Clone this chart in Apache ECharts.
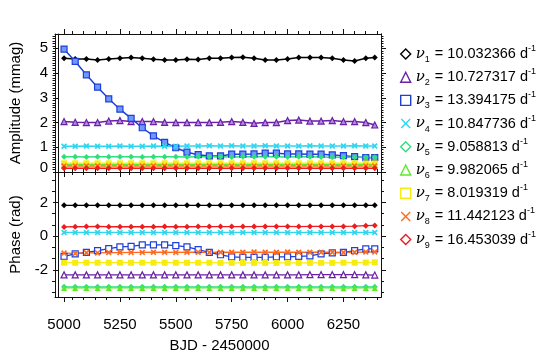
<!DOCTYPE html>
<html>
<head>
<meta charset="utf-8">
<script src="https://cdn.jsdelivr.net/npm/echarts@6/dist/echarts.min.js"></script>
<style>
  html, body { margin: 0; padding: 0; background: #fff; }
  #chart { width: 545px; height: 355px; }
</style>
</head>
<body>
<div id="chart"></div>
<script>
// observation epochs, BJD - 2450000
const bjd = [5000, 5050, 5100, 5150, 5200, 5250, 5300, 5350, 5400, 5450, 5500, 5550, 5600, 5650,
  5700, 5750, 5800, 5850, 5900, 5950, 6000, 6050, 6100, 6150, 6200, 6250, 6300, 6350, 6390];

const names = ['v1', 'v2', 'v3', 'v4', 'v5', 'v6', 'v7', 'v8', 'v9'];
const freqs = ['10.032366', '10.727317', '13.394175', '10.847736', '9.058813', '9.982065',
  '8.019319', '11.442123', '16.453039'];

// amplitudes (mmag)
const amp1 = [4.60, 4.57, 4.57, 4.53, 4.57, 4.60, 4.63, 4.60, 4.56, 4.53, 4.53, 4.56, 4.55, 4.60,
  4.60, 4.63, 4.64, 4.60, 4.53, 4.53, 4.57, 4.63, 4.63, 4.63, 4.60, 4.53, 4.49, 4.60, 4.63];
const amp2 = [2.04, 2.01, 2.00, 2.00, 2.06, 2.08, 2.04, 2.04, 2.04, 2.01, 2.00, 2.00, 2.00, 2.00,
  2.01, 2.04, 2.01, 1.97, 2.00, 2.00, 2.08, 2.10, 2.06, 2.06, 2.08, 2.04, 2.04, 2.00, 1.90];
const amp3 = [4.97, 4.47, 3.93, 3.43, 2.96, 2.54, 2.17, 1.79, 1.46, 1.20, 0.98, 0.80, 0.70, 0.65,
  0.65, 0.72, 0.72, 0.73, 0.76, 0.76, 0.73, 0.73, 0.72, 0.72, 0.69, 0.66, 0.62, 0.58, 0.58];
const amp4 = [1.04, 1.04, 1.05, 1.04, 1.04, 1.05, 1.04, 1.04, 1.05, 1.04, 1.04, 1.05, 1.05, 1.06,
  1.05, 1.06, 1.05, 1.05, 1.06, 1.05, 1.05, 1.05, 1.06, 1.05, 1.05, 1.05, 1.06, 1.05, 1.05];
const amp5 = [0.62, 0.62, 0.61, 0.62, 0.62, 0.62, 0.62, 0.61, 0.62, 0.62, 0.62, 0.61, 0.62, 0.62,
  0.62, 0.61, 0.62, 0.62, 0.62, 0.62, 0.61, 0.62, 0.62, 0.61, 0.60, 0.60, 0.60, 0.60, 0.60];
const amp6 = [0.30, 0.30, 0.30, 0.30, 0.30, 0.30, 0.30, 0.30, 0.30, 0.30, 0.30, 0.30, 0.30, 0.30,
  0.30, 0.30, 0.30, 0.30, 0.30, 0.30, 0.30, 0.30, 0.30, 0.30, 0.30, 0.30, 0.30, 0.30, 0.30];
const amp7 = [0.35, 0.35, 0.35, 0.35, 0.35, 0.35, 0.35, 0.35, 0.35, 0.35, 0.35, 0.35, 0.35, 0.35,
  0.35, 0.35, 0.35, 0.35, 0.35, 0.35, 0.35, 0.35, 0.35, 0.35, 0.35, 0.35, 0.35, 0.35, 0.35];
const amp8 = [0.24, 0.24, 0.24, 0.24, 0.24, 0.24, 0.24, 0.24, 0.24, 0.24, 0.24, 0.24, 0.24, 0.24,
  0.24, 0.24, 0.24, 0.24, 0.24, 0.24, 0.24, 0.24, 0.24, 0.24, 0.24, 0.24, 0.24, 0.24, 0.24];
const amp9 = [0.15, 0.15, 0.15, 0.15, 0.15, 0.15, 0.15, 0.15, 0.15, 0.15, 0.15, 0.15, 0.15, 0.15,
  0.15, 0.15, 0.15, 0.15, 0.15, 0.15, 0.15, 0.15, 0.15, 0.15, 0.15, 0.15, 0.15, 0.15, 0.15];

// phases (rad)
const ph1 = [1.83, 1.83, 1.83, 1.83, 1.83, 1.83, 1.83, 1.83, 1.83, 1.83, 1.83, 1.83, 1.83, 1.83,
  1.83, 1.83, 1.83, 1.83, 1.83, 1.83, 1.83, 1.83, 1.83, 1.83, 1.83, 1.83, 1.83, 1.83, 1.83];
const ph2 = [-2.29, -2.29, -2.29, -2.29, -2.29, -2.29, -2.29, -2.29, -2.29, -2.29, -2.29, -2.29, -2.29, -2.29,
  -2.29, -2.29, -2.29, -2.29, -2.29, -2.29, -2.29, -2.29, -2.28, -2.28, -2.28, -2.28, -2.28, -2.29, -2.30];
const ph3 = [-1.20, -1.05, -0.96, -0.86, -0.74, -0.63, -0.60, -0.51, -0.51, -0.51, -0.56, -0.63, -0.80, -0.96,
  -1.10, -1.23, -1.26, -1.26, -1.26, -1.23, -1.23, -1.20, -1.16, -1.05, -0.99, -0.96, -0.86, -0.75, -0.75];
const ph4 = [0.22, 0.22, 0.22, 0.22, 0.22, 0.22, 0.22, 0.22, 0.22, 0.22, 0.22, 0.22, 0.22, 0.22,
  0.22, 0.22, 0.22, 0.22, 0.22, 0.22, 0.22, 0.22, 0.22, 0.22, 0.22, 0.22, 0.22, 0.22, 0.22];
const ph5 = [-3.00, -3.00, -3.00, -3.00, -3.00, -3.00, -3.00, -3.00, -3.00, -3.00, -3.00, -3.00, -3.00, -3.00,
  -3.00, -3.00, -3.00, -3.00, -3.00, -3.00, -3.00, -3.00, -3.00, -3.00, -3.00, -3.00, -3.00, -3.00, -3.00];
const ph6 = [-3.06, -3.06, -3.06, -3.06, -3.06, -3.06, -3.06, -3.06, -3.06, -3.06, -3.06, -3.06, -3.06, -3.06,
  -3.06, -3.06, -3.06, -3.06, -3.06, -3.06, -3.06, -3.06, -3.06, -3.06, -3.06, -3.08, -3.06, -3.06, -3.06];
const ph7 = [-1.57, -1.57, -1.57, -1.57, -1.57, -1.57, -1.57, -1.57, -1.57, -1.57, -1.57, -1.57, -1.57, -1.57,
  -1.58, -1.58, -1.58, -1.58, -1.58, -1.58, -1.58, -1.58, -1.58, -1.58, -1.58, -1.57, -1.57, -1.56, -1.55];
const ph8 = [-1.00, -1.02, -0.98, -0.99, -0.97, -0.97, -0.96, -0.96, -0.95, -0.95, -0.96, -0.95, -0.95, -0.96,
  -0.95, -0.95, -0.95, -0.94, -0.95, -0.95, -0.94, -0.95, -0.95, -0.95, -0.95, -0.96, -0.95, -0.94, -0.93];
const ph9 = [0.55, 0.56, 0.57, 0.58, 0.56, 0.56, 0.56, 0.56, 0.56, 0.57, 0.56, 0.56, 0.57, 0.57,
  0.57, 0.57, 0.57, 0.57, 0.58, 0.58, 0.58, 0.57, 0.58, 0.58, 0.58, 0.58, 0.59, 0.62, 0.64];

const amps = [amp1, amp2, amp3, amp4, amp5, amp6, amp7, amp8, amp9];
const phases = [ph1, ph2, ph3, ph4, ph5, ph6, ph7, ph8, ph9];

// tick labels
const xTicks = [5000, 5250, 5500, 5750, 6000, 6250];
const ampTicks = [0, 1, 2, 3, 4, 5];
const phaseTicks = [-2, 0, 2];

const colors = ['#000000', '#6a1fa6', '#1e3fd8', '#2fd6f0', '#2ee07c', '#5ee82c', '#f7ec10', '#ff6a1e', '#ee1c1c'];
const fills = ['#000000', '#b48ae0', '#6f98ff', '#2fd6f0', '#2ee07c', '#5ee82c', '#f7ec10', '#ff6a1e', '#ee1c1c'];
const cross = 'path://M2,0L5,3L8,0L10,2L7,5L10,8L8,10L5,7L2,10L0,8L3,5L0,2Z';
const thinCross = 'path://M1,0L5,4L9,0L10,1L6,5L10,9L9,10L5,6L1,10L0,9L4,5L0,1Z';
const shapes = ['diamond', 'triangle', 'rect', cross, 'diamond', 'triangle', 'rect', cross, 'diamond'];
const legendShapes = ['diamond', 'triangle', 'rect', thinCross, 'diamond', 'triangle', 'rect', thinCross, 'diamond'];

const FONT = '"Liberation Sans", Arial, Helvetica, sans-serif';
const X_MIN = 4973, X_MAX = 6418;
const A_MIN = 0, A_MAX = 5.58;
const P_MIN = -3.6, P_MAX = 3.8;

// minor ticks between the labelled ones
function minorTicks(majors, n, min, max) {
  const step = (majors[1] - majors[0]) / n;
  const out = [];
  const start = majors[0] - step * n * 2;
  const end = majors[majors.length - 1] + step * n * 2;
  for (let v = start; v <= end + 1e-9; v += step) {
    const r = Math.round(v * 1000) / 1000;
    const isMajor = majors.some(m => Math.abs(m - r) < 1e-6);
    if (!isMajor && r > min && r < max) out.push(r);
  }
  return out;
}

const line = { show: true, onZero: false, lineStyle: { color: '#111', width: 1 } };

function axis(grid, pos, min, max, ticks, len, label, extra) {
  return Object.assign({
    type: 'value', gridIndex: grid, position: pos, min: min, max: max,
    axisLine: line,
    axisTick: { show: true, customValues: ticks, length: len, lineStyle: { color: '#111' } },
    axisLabel: label
      ? Object.assign({ customValues: ticks, color: '#000', fontFamily: FONT, fontSize: 15, formatter: v => String(v) }, label)
      : { show: false },
    splitLine: { show: false }
  }, extra || {});
}

const xMinor = minorTicks(xTicks, 5, X_MIN, X_MAX);
const aMinor = minorTicks(ampTicks, 10, A_MIN, A_MAX);
const pMinor = minorTicks(phaseTicks, 3, P_MIN, P_MAX);

// grids 0/1: data + major ticks, grids 2/3: same boxes carrying the minor ticks
const xAxes = [
  axis(0, 'bottom', X_MIN, X_MAX, xTicks, 5, null),
  axis(0, 'top', X_MIN, X_MAX, xTicks, 5, null),
  axis(1, 'bottom', X_MIN, X_MAX, xTicks, 5, { margin: 20 }, {
    name: 'BJD - 2450000', nameLocation: 'middle', nameGap: 41,
    nameTextStyle: { color: '#000', fontFamily: FONT, fontSize: 15 }
  }),
  axis(1, 'top', X_MIN, X_MAX, xTicks, 5, null),
  axis(2, 'bottom', X_MIN, X_MAX, xMinor, 3, null),
  axis(2, 'top', X_MIN, X_MAX, xMinor, 3, null),
  axis(3, 'bottom', X_MIN, X_MAX, xMinor, 3, null),
  axis(3, 'top', X_MIN, X_MAX, xMinor, 3, null)
];

const yAxes = [
  axis(0, 'left', A_MIN, A_MAX, ampTicks, 5, {
    margin: 10,
    formatter: v => v === 0 ? '{z|0}' : String(v),
    rich: { z: { fontFamily: FONT, fontSize: 15, color: '#000', padding: [0, 0, 9, 0] } }
  }, {
    name: 'Amplitude (mmag)', nameLocation: 'middle', nameGap: 35,
    nameTextStyle: { color: '#000', fontFamily: FONT, fontSize: 15 }
  }),
  axis(0, 'right', A_MIN, A_MAX, ampTicks, 5, null),
  axis(1, 'left', P_MIN, P_MAX, phaseTicks, 5, { margin: 10 }, {
    name: 'Phase (rad)', nameLocation: 'middle', nameGap: 35,
    nameTextStyle: { color: '#000', fontFamily: FONT, fontSize: 15 }
  }),
  axis(1, 'right', P_MIN, P_MAX, phaseTicks, 5, null),
  axis(2, 'left', A_MIN, A_MAX, aMinor, 2.5, null),
  axis(2, 'right', A_MIN, A_MAX, aMinor, 2.5, null),
  axis(3, 'left', P_MIN, P_MAX, pMinor, 3, null),
  axis(3, 'right', P_MIN, P_MAX, pMinor, 3, null)
];

const series = [];
names.forEach((n, i) => {
  series.push({
    name: n, type: 'line', xAxisIndex: 0, yAxisIndex: 0,
    data: bjd.map((x, k) => [x, amps[i][k]]),
    symbol: shapes[i], symbolSize: 6,
    lineStyle: { color: colors[i], width: 1.5 },
    itemStyle: { color: fills[i], borderColor: colors[i], borderWidth: i === 1 || i === 2 ? 1.2 : 0 },
    animation: false
  });
});
names.forEach((n, i) => {
  series.push({
    name: n, type: 'line', xAxisIndex: 2, yAxisIndex: 2,
    data: bjd.map((x, k) => [x, phases[i][k]]),
    symbol: shapes[i], symbolSize: 6,
    lineStyle: { color: colors[i], width: 1.3 },
    itemStyle: {
      color: i === 1 || i === 2 ? '#ffffff' : fills[i],
      borderColor: colors[i], borderWidth: i === 1 || i === 2 ? 1.2 : 0
    },
    animation: false
  });
});

const legendData = names.map((n, i) => ({
  name: n,
  icon: legendShapes[i],
  itemStyle: (i === 3 || i === 7)
    ? { color: colors[i], borderWidth: 0 }
    : { color: '#ffffff', borderColor: colors[i], borderWidth: 1.4 }
}));

const topBox = { left: 55, top: 34, width: 326, height: 138 };
const bottomBox = { left: 55, top: 172, width: 326, height: 125 };

const chart = echarts.init(document.getElementById('chart'), null, { renderer: 'canvas' });
chart.setOption({
  backgroundColor: '#ffffff',
  animation: false,
  grid: [topBox, bottomBox, topBox, bottomBox],
  xAxis: xAxes,
  yAxis: yAxes,
  legend: {
    data: legendData,
    orient: 'vertical',
    left: 395, top: 39,
    itemWidth: 10, itemHeight: 10, itemGap: 3.2,
    selectedMode: false,
    formatter: name => {
      const i = names.indexOf(name);
      return '{g|ν}{s|' + (i + 1) + '} = ' + freqs[i] + ' d{p|-1}';
    },
    textStyle: {
      color: '#000', fontFamily: FONT, fontSize: 14.5, lineHeight: 20,
      rich: {
        g: { fontFamily: '"DejaVu Serif", "Liberation Serif", serif', fontStyle: 'italic', fontSize: 15, color: '#000' },
        s: { fontFamily: FONT, fontSize: 9, color: '#000', verticalAlign: 'bottom', lineHeight: 12, padding: [0, 1, 0, 0] },
        p: { fontFamily: FONT, fontSize: 9, color: '#000', verticalAlign: 'top', lineHeight: 14 }
      }
    }
  },
  series: series
});
</script>
</body>
</html>
